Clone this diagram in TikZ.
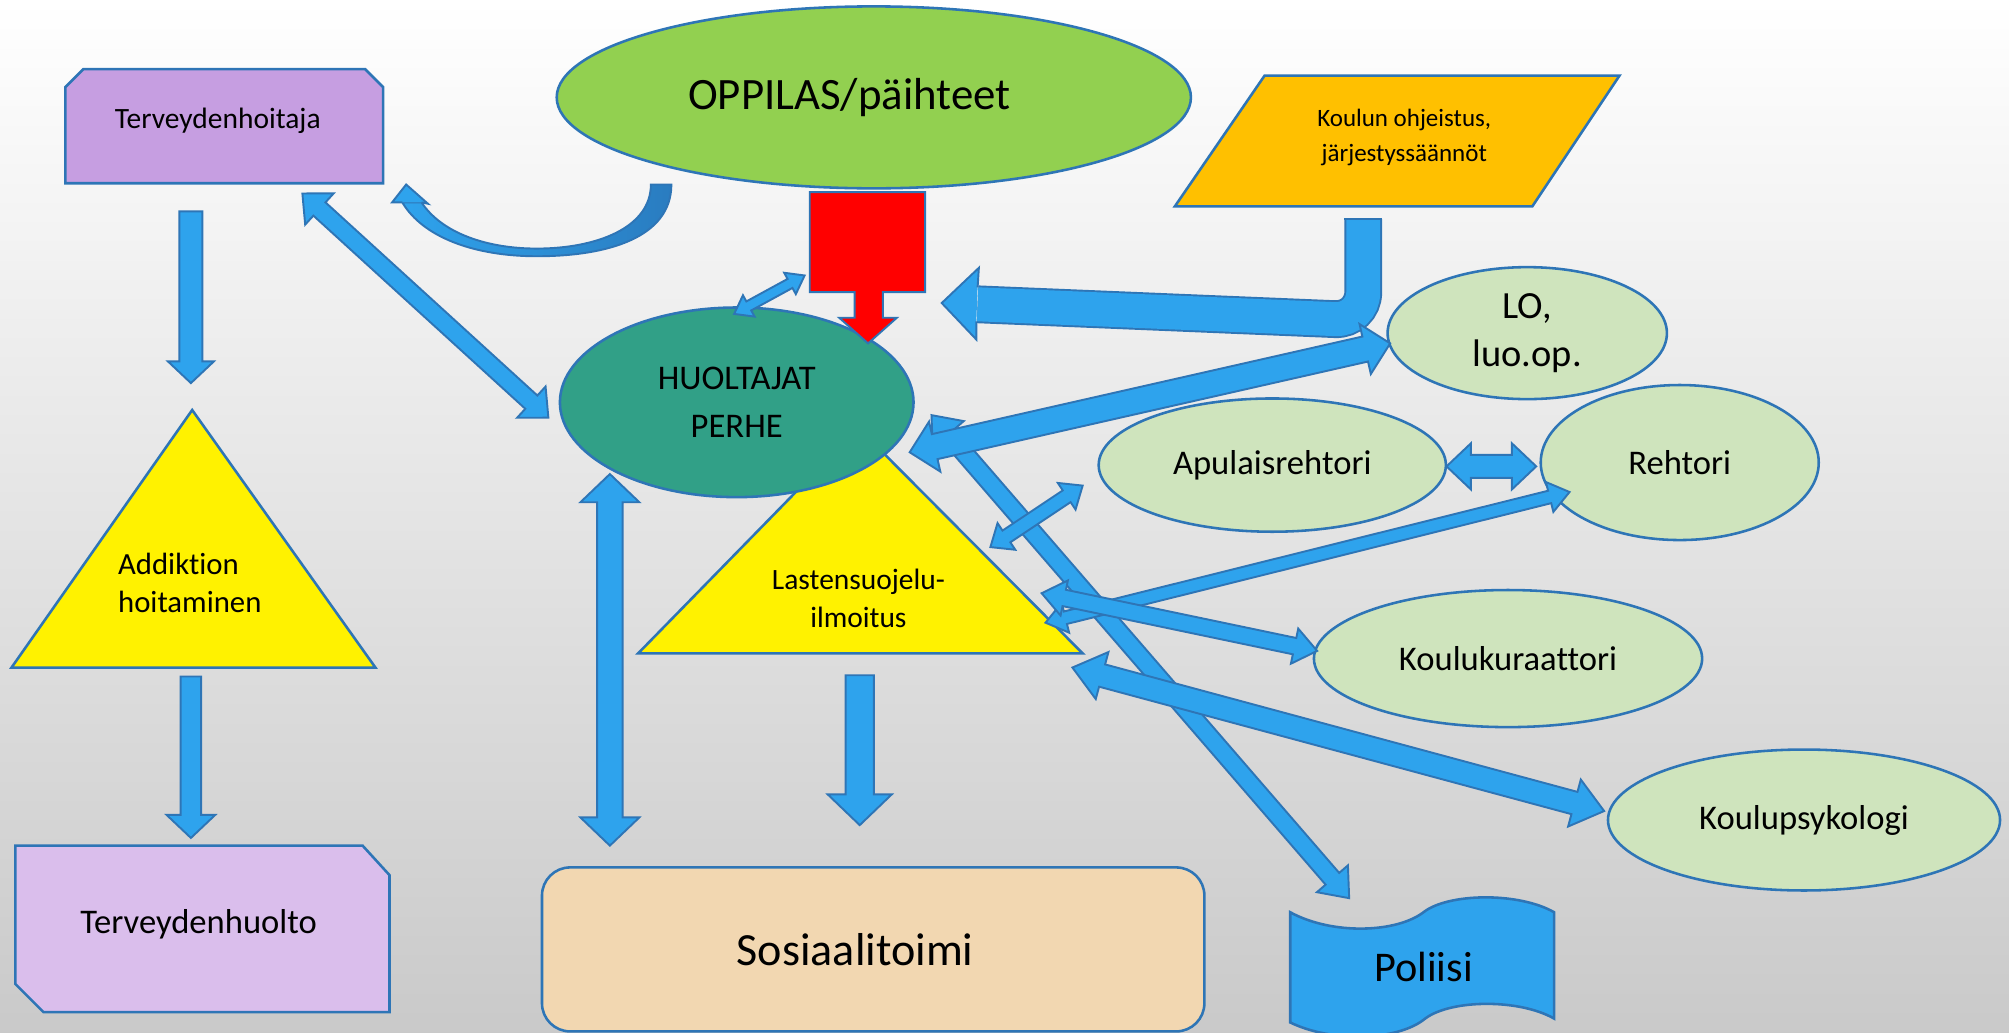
\documentclass[tikz,border=0pt]{standalone}
\usepackage{fontspec}
\setmainfont{Carlito}[Ligatures=NoCommon]
\usetikzlibrary{calc,shapes.geometric}

\definecolor{edgeblue}{HTML}{2E75B6}
\definecolor{arrowblue}{HTML}{2EA3ED}
\definecolor{deeparrow}{HTML}{2A7CC0}
\definecolor{lilac}{HTML}{C69EE1}
\definecolor{lilaclight}{HTML}{DABEEC}
\definecolor{oppgreen}{HTML}{92D050}
\definecolor{huolteal}{HTML}{31A087}
\definecolor{palegreen}{HTML}{CFE4BD}
\definecolor{kouluorange}{HTML}{FFC000}
\definecolor{sand}{HTML}{F2D7B1}

\newcommand{\blkarrow}[5]{%
  \coordinate (bh) at ($(#2)!#5!(#1)$);
  \draw[blk] ($(#1)!#3!90:(#2)$) -- ($(bh)!#3!-90:(#1)$) -- ($(bh)!#4!-90:(#1)$) -- (#2)
    -- ($(bh)!#4!90:(#1)$) -- ($(bh)!#3!90:(#1)$) -- ($(#1)!#3!-90:(#2)$) -- cycle;
}
\newcommand{\blkdarrow}[5]{%
  \coordinate (bha) at ($(#1)!#5!(#2)$);
  \coordinate (bhb) at ($(#2)!#5!(#1)$);
  \draw[blk] (#1) -- ($(bha)!#4!90:(#2)$) -- ($(bha)!#3!90:(#2)$) -- ($(bhb)!#3!-90:(#1)$)
    -- ($(bhb)!#4!-90:(#1)$) -- (#2) -- ($(bhb)!#4!90:(#1)$) -- ($(bhb)!#3!90:(#1)$)
    -- ($(bha)!#3!-90:(#2)$) -- ($(bha)!#4!-90:(#2)$) -- cycle;
}

\begin{document}
\begin{tikzpicture}[x=1pt, y=-1pt,
    rim/.style={draw=edgeblue, line width=2pt},
    blk/.style={draw=edgeblue, line width=1.5pt, fill=arrowblue, line join=miter},
    bubble/.style={ellipse, rim, fill=palegreen, inner sep=0pt, align=center, font=\fontsize{27}{33}\selectfont},
    lbl/.style={inner sep=0pt, align=center}]
    \useasboundingbox (0,0) rectangle (1568,806);
    \shade[top color=white, middle color=gray!8, bottom color=gray!42] (0,0) rectangle (1568,806);

    \coordinate (tervA) at (149,165);   \coordinate (addA) at (149,299);
    \coordinate (tervB) at (236,151);   \coordinate (huolB) at (428,326);
    \coordinate (huolC) at (573,245);   \coordinate (redC) at (628,215);
    \coordinate (huolD) at (710,353);   \coordinate (loD) at (1085,268);
    \coordinate (huolE) at (727,324);   \coordinate (polE) at (1053,701);
    \coordinate (lastF) at (773,427);   \coordinate (apuF) at (845,379);
    \coordinate (apuG) at (1129,364);   \coordinate (rehG) at (1199,364);
    \coordinate (lastH) at (816,486);   \coordinate (rehH) at (1225,384);
    \coordinate (lastI) at (813,463);   \coordinate (kurI) at (1028,508);
    \coordinate (lastJ) at (837,521);   \coordinate (psyJ) at (1252,633);
    \coordinate (huolK) at (476,370);   \coordinate (sosK) at (476,660);
    \coordinate (lastL) at (671,527);   \coordinate (sosL) at (671,644);
    \coordinate (addM) at (149,528);    \coordinate (thM) at (149,654);

    \draw[rim, fill=lilac] (51,143) -- (51,68) -- (65,54) -- (285,54) -- (299,68) -- (299,143) -- cycle;
    \node[lbl, font=\fontsize{23}{28}\selectfont] (terv) at (170,94) {Terveydenhoitaja};
    \draw[rim, fill=lilaclight] (12,660) -- (283,660) -- (304,683) -- (304,790) -- (34,790) -- (12,768) -- cycle;
    \node[lbl, font=\fontsize{27}{33}\selectfont] (thuolto) at (155,721) {Terveydenhuolto};
    \draw[rim, fill=yellow] (150,320) -- (293,521) -- (9,521) -- cycle;
    \node[lbl, align=left, anchor=west, font=\fontsize{24}{29}\selectfont] (addik) at (92,455) {Addiktion\\hoitaminen};
    \draw[rim, fill=yellow] (670,334) -- (845,510) -- (498,510) -- cycle;
    \node[lbl, font=\fontsize{23}{30}\selectfont] (lasu) at (670,467) {Lastensuojelu-\\ilmoitus};
    \draw[rim, fill=kouluorange] (917,161) -- (987,59) -- (1264,59) -- (1196,161) -- cycle;
    \node[lbl, font=\fontsize{19.5}{27}\selectfont] (koulu) at (1096,107.5) {Koulun ohjeistus,\\järjestyssäännöt};
    \draw[rim, fill=arrowblue] (1007,712) .. controls (1040,730) and (1090,728) .. (1111,712)
        .. controls (1130,697) and (1185,696) .. (1213,712) -- (1213,795)
        .. controls (1185,779) and (1130,780) .. (1111,796)
        .. controls (1090,812) and (1040,814) .. (1007,798) -- cycle;
    \node[lbl, font=\fontsize{33}{40}\selectfont] (poliisi) at (1111,755) {Poliisi};

    \node[bubble, fill=oppgreen, minimum width=495pt, minimum height=142pt, font=\fontsize{35}{42}\selectfont] (oppilas) at (682,76) {OPPILAS/päihteet\hspace*{38pt}};
    \node[bubble, fill=huolteal, minimum width=276pt, minimum height=148pt, font=\fontsize{27}{38}\selectfont] (huoltajat) at (575,314) {HUOLTAJAT\\PERHE};
    \node[bubble, minimum width=218pt, minimum height=103pt, font=\fontsize{30}{37}\selectfont] (lo) at (1192,260) {LO,\\luo.op.};
    \node[bubble, minimum width=271pt, minimum height=104pt] (apulais) at (993,363) {Apulaisrehtori};
    \node[bubble, minimum width=217pt, minimum height=121pt] (rehtori) at (1311,361) {Rehtori};
    \node[bubble, minimum width=303pt, minimum height=107pt] (kuraattori) at (1177,514) {Koulukuraattori};
    \node[bubble, minimum width=306pt, minimum height=110pt] (psykologi) at (1408,640) {Koulupsykologi};
    \node[rim, fill=sand, rounded corners=22pt, minimum width=517pt, minimum height=128pt, font=\fontsize{36}{42}\selectfont] (sosiaali) at (681.5,741) {Sosiaalitoimi\hspace*{28pt}};

    \draw[rim, line width=1.5pt, fill=red, line join=miter] (632,150) -- (722,150) -- (722,228) -- (689,228) -- (689,248) -- (700,248)
        -- (677.5,268) -- (655,248) -- (667,248) -- (667,228) -- (632,228) -- cycle;
    \shadedraw[left color=arrowblue, right color=deeparrow, draw=edgeblue, line width=1.5pt]
        (524,144) .. controls (524,185) and (475,200) .. (419,200) .. controls (370,200) and (330,185) .. (314,158)
        -- (329,158) .. controls (345,182) and (380,194) .. (419,194) .. controls (465,194) and (508,178) .. (508,144) -- cycle;
    \draw[blk] (314,158) -- (306,158) -- (317,144) -- (334,159) -- (329,158);
    \draw[edgeblue, line width=29.5pt, rounded corners=22pt] (1064,171) -- (1064,250) -- (763,237.5);
    \draw[arrowblue, line width=26.5pt, rounded corners=22pt] (1064,171.75) -- (1064,250) -- (763,237.5);
    \draw[edgeblue, line width=1.5pt] (1049.25,171) -- (1078.75,171);
    \draw[blk] (763,224.25) -- (764,209) -- (735,236.5) -- (762,265) -- (762,250.75);

    \blkdarrow{huolE}{polE}{7pt}{16pt}{20pt}
    \blkarrow{tervA}{addA}{9pt}{18pt}{17pt}
    \blkdarrow{tervB}{huolB}{7pt}{16.5pt}{18pt}
    \blkdarrow{huolC}{redC}{4pt}{9.5pt}{13pt}
    \blkdarrow{huolD}{loD}{10pt}{20pt}{20pt}
    \blkdarrow{lastF}{apuF}{5.5pt}{12.5pt}{15pt}
    \blkdarrow{apuG}{rehG}{9pt}{18pt}{19pt}
    \blkdarrow{lastH}{rehH}{5pt}{12pt}{16pt}
    \blkdarrow{lastI}{kurI}{6.5pt}{14pt}{18pt}
    \blkdarrow{lastJ}{psyJ}{9pt}{19pt}{24pt}
    \blkdarrow{huolK}{sosK}{10pt}{23pt}{22pt}
    \blkarrow{lastL}{sosL}{11pt}{25pt}{24pt}
    \blkarrow{addM}{thM}{8pt}{19pt}{18pt}
\end{tikzpicture}
\end{document}
